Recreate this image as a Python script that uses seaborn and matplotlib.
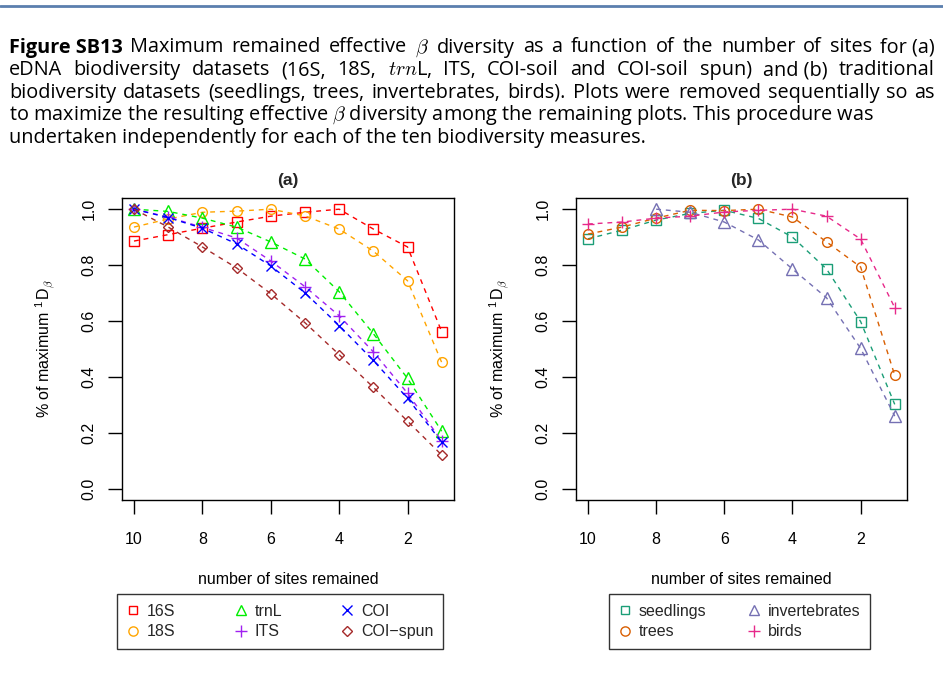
import matplotlib
matplotlib.use("Agg")
import matplotlib.pyplot as plt
from matplotlib.lines import Line2D
import seaborn as sns
import pandas as pd

# ---- data ---------------------------------------------------------------
sites = [10, 9, 8, 7, 6, 5, 4, 3, 2, 1]

edna_names = ["16S", "18S", "trnL", "ITS", "COI", "COI\u2212spun"]
v_16S = [0.886, 0.909, 0.932, 0.954, 0.975, 0.989, 1.000, 0.929, 0.865, 0.562]
v_18S = [0.936, 0.965, 0.989, 0.993, 1.000, 0.976, 0.929, 0.850, 0.744, 0.452]
v_trnL = [1.000, 0.992, 0.968, 0.936, 0.883, 0.822, 0.705, 0.555, 0.395, 0.206]
v_ITS = [1.000, 0.972, 0.935, 0.897, 0.815, 0.723, 0.619, 0.490, 0.342, 0.171]
v_COI = [1.000, 0.970, 0.932, 0.876, 0.797, 0.701, 0.584, 0.459, 0.324, 0.167]
v_COIspun = [1.000, 0.936, 0.865, 0.790, 0.698, 0.594, 0.480, 0.363, 0.242, 0.121]

trad_names = ["seedlings", "trees", "invertebrates", "birds"]
v_seedlings = [0.894, 0.925, 0.961, 0.985, 0.996, 0.967, 0.900, 0.786, 0.598, 0.302]
v_trees = [0.911, 0.936, 0.968, 0.996, 0.995, 1.000, 0.972, 0.883, 0.793, 0.406]
inv_sites = [8, 7, 6, 5, 4, 3, 2, 1]
v_invertebrates = [1.000, 0.989, 0.954, 0.890, 0.786, 0.683, 0.502, 0.260]
v_birds = [0.947, 0.954, 0.968, 0.975, 0.990, 0.996, 1.000, 0.975, 0.893, 0.648]

x_ticks = [10, 8, 6, 4, 2]
y_ticks = [0.0, 0.2, 0.4, 0.6, 0.8, 1.0]

# ---- style ---------------------------------------------------------------
sns.set_theme(style="white")
plt.rcParams["font.family"] = ["Liberation Sans", "DejaVu Sans"]
plt.rcParams["mathtext.fontset"] = "cm"

edna = [
    (edna_names[0], sites, v_16S, "#FF0000", "s", 6.5),
    (edna_names[1], sites, v_18S, "#FFA500", "o", 7),
    (edna_names[2], sites, v_trnL, "#00EE00", "^", 8),
    (edna_names[3], sites, v_ITS, "#A020F0", "+", 9),
    (edna_names[4], sites, v_COI, "#0000FF", "x", 7),
    (edna_names[5], sites, v_COIspun, "#A52A2A", "D", 5.5),
]
trad = [
    (trad_names[0], sites, v_seedlings, "#1B9E77", "s", 6.5),
    (trad_names[1], sites, v_trees, "#D95F02", "o", 7),
    (trad_names[2], inv_sites, v_invertebrates, "#7570B3", "^", 8),
    (trad_names[3], sites, v_birds, "#E7298A", "+", 9),
]

fig = plt.figure(figsize=(9.43, 6.75), dpi=100)
renderer = fig.canvas.get_renderer()
W = fig.bbox.width

# rule across the top of the page
fig.add_artist(Line2D([0, 1], [0.9905, 0.9905], transform=fig.transFigure,
                      color="#5b7fae", lw=2))

# ---- caption (justified paragraph) --------------------------------------
cap_font = ["Open Sans", "DejaVu Sans"]
cap_head = "Figure SB13"
cap_lines = [
    r"Maximum remained effective $\beta$ diversity as a function of the number of sites for (a)",
    r"eDNA biodiversity datasets (16S, 18S, $\mathit{trn}$L, ITS, COI-soil and COI-soil spun) and (b) traditional",
    r"biodiversity datasets (seedlings, trees, invertebrates, birds). Plots were removed sequentially so as",
    r"to maximize the resulting effective $\beta$ diversity among the remaining plots. This procedure was",
    r"undertaken independently for each of the ten biodiversity measures.",
]
left_px, right_px = 9, 935
y_first = 1 - 52.5 / 675
dy = 22.6 / 675
head_gap = 7


def text_width(s, size, **kw):
    t = fig.text(0, 0.5, s, family=cap_font, size=size, **kw)
    w = t.get_window_extent(renderer).width
    t.remove()
    return w


base = 12.0
natural = [text_width(cap_head, base, weight="bold") + head_gap + text_width(cap_lines[0], base),
           text_width(cap_lines[1], base), text_width(cap_lines[2], base)]
cap_size = base * 0.975 * (right_px - left_px) / max(natural)


def split_words(line):
    # keep short panel markers such as "(a)" attached to the word before them
    out = []
    for wd in line.split(" "):
        if out and len(wd) <= 3 and wd.startswith("("):
            out[-1] = out[-1] + " " + wd
        else:
            out.append(wd)
    return out


def put_justified(line, y, x_start_px):
    words = split_words(line)
    widths = [text_width(wd, cap_size) for wd in words]
    gap = (right_px - x_start_px - sum(widths)) / (len(words) - 1)
    x = x_start_px
    for wd, w in zip(words, widths):
        fig.text(x / W, y, wd, family=cap_font, size=cap_size,
                 va="baseline", ha="left", color="black")
        x += w + gap


head = fig.text(left_px / W, y_first, cap_head, family=cap_font, size=cap_size,
                weight="bold", va="baseline", ha="left", color="black")
x_after_head = head.get_window_extent(renderer).x1 + head_gap
put_justified(cap_lines[0], y_first, x_after_head)
put_justified(cap_lines[1], y_first - dy, left_px)
put_justified(cap_lines[2], y_first - 2 * dy, left_px)
for i in (3, 4):
    fig.text(left_px / W, y_first - i * dy, cap_lines[i], family=cap_font,
             size=cap_size, va="baseline", ha="left", color="black")


def draw_panel(rect, series, title, legend_rect, legend_cols):
    ax = fig.add_axes(rect)
    for name, xs, ys, color, marker, ms in series:
        df = pd.DataFrame({"sites": xs, "value": ys})
        sns.lineplot(data=df, x="sites", y="value", ax=ax, sort=False,
                     color=color, linestyle=(0, (3.5, 3.5)), lw=1.0,
                     marker=marker, markersize=ms, markerfacecolor="none",
                     markeredgecolor=color, markeredgewidth=1.0, label=None)
    ax.set_xlim(10.36, 0.64)
    ax.set_ylim(-0.04, 1.04)
    ax.set_xticks(x_ticks)
    ax.set_xticklabels([str(t) for t in x_ticks])
    ax.set_yticks(y_ticks)
    ax.set_yticklabels([f"{t:.1f}" for t in y_ticks], rotation=90, va="center")
    ax.tick_params(axis="both", direction="out", length=10, width=1.0,
                   color="black", labelsize=11.5, labelcolor="black",
                   bottom=True, left=True)
    ax.tick_params(axis="x", pad=13)
    ax.tick_params(axis="y", pad=8)
    for sp in ax.spines.values():
        sp.set_color("black")
        sp.set_linewidth(1.0)
    ax.set_xlabel("number of sites remained", fontsize=11.5, labelpad=18, color="black")
    ax.set_ylabel(r"% of maximum $^{\mathregular{1}}$D$_{\beta}$", fontsize=11.5,
                  labelpad=18, color="black")
    ax.set_title(title, fontsize=12.5, fontweight="bold", pad=9)
    ax.grid(False)

    handles = [Line2D([], [], linestyle="none", marker=m, markersize=ms * 0.95,
                      markerfacecolor="none", markeredgecolor=c, markeredgewidth=1.0)
               for _, _, _, c, m, ms in series]
    labels = [s[0] for s in series]
    leg = fig.legend(handles, labels, ncol=legend_cols, loc="center left",
                     bbox_to_anchor=legend_rect, mode="expand",
                     frameon=True, fancybox=False, edgecolor="black",
                     fontsize=11.5, handlelength=0.8, handletextpad=0.45,
                     columnspacing=1.0, labelspacing=0.35,
                     borderaxespad=0, borderpad=0.6)
    leg.get_frame().set_linewidth(1.0)
    return ax


draw_panel([121.7 / 943, 175 / 675, 332.3 / 943, 302 / 675], edna, "(a)",
           (117 / 943, 24 / 675, 326 / 943, 59 / 675), 3)
draw_panel([575.7 / 943, 175 / 675, 331.3 / 943, 302 / 675], trad, "(b)",
           (609 / 943, 24 / 675, 261 / 943, 59 / 675), 2)

fig.savefig("out.png", dpi=100, facecolor="white")
